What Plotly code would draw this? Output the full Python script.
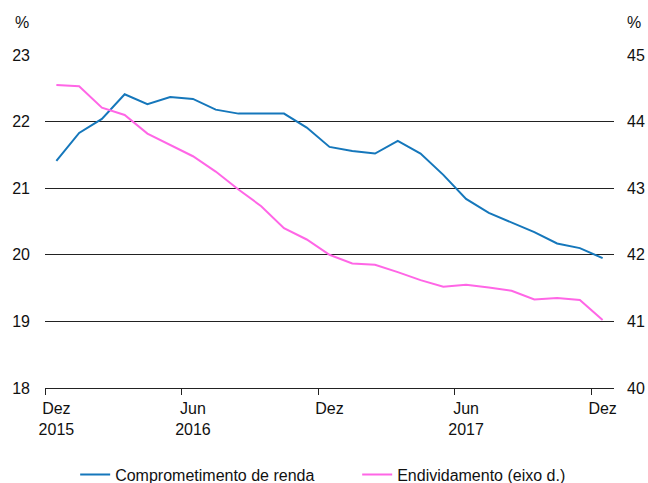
import plotly.graph_objects as go

months = list(range(25))
tick_pos = [0, 6, 12, 18, 24]
tick_labels = ["Dez<br>2015", "Jun<br>2016", "Dez", "Jun<br>2017", "Dez"]

comprometimento = [21.41, 21.83, 22.04, 22.41, 22.26, 22.37, 22.34, 22.18, 22.12, 22.12,
                   22.12, 21.91, 21.62, 21.56, 21.52, 21.71, 21.52, 21.20, 20.84, 20.63,
                   20.49, 20.34, 20.17, 20.10, 19.95]
endividamento = [44.55, 44.53, 44.21, 44.10, 43.82, 43.65, 43.48, 43.25, 42.98, 42.73,
                 42.40, 42.23, 42.00, 41.87, 41.85, 41.74, 41.62, 41.52, 41.55, 41.51,
                 41.46, 41.33, 41.35, 41.32, 41.02]

FONT = "Liberation Sans, Arial, sans-serif"
BLUE = "#1577BB"
PINK = "#FF66E6"
FS = 16

fig = go.Figure()
fig.add_trace(go.Scatter(x=months, y=comprometimento, mode="lines",
                         name="Comprometimento de renda",
                         line=dict(color=BLUE, width=2)))
fig.add_trace(go.Scatter(x=months, y=endividamento, mode="lines",
                         name="Endividamento (eixo d.)",
                         line=dict(color=PINK, width=2), yaxis="y2"))

fig.update_layout(
    width=648, height=483,
    margin=dict(l=45, r=34, t=55, b=95, autoexpand=False),
    paper_bgcolor="white", plot_bgcolor="white",
    font=dict(family=FONT, size=FS, color="#111"),
    showlegend=True,
    legend=dict(orientation="h", xref="container", x=0.116, xanchor="left",
                y=-0.26, yanchor="middle",
                font=dict(size=FS), itemwidth=30, tracegroupgap=0,
                entrywidth=237, entrywidthmode="pixels"),
    xaxis=dict(range=[-0.5, 24.5], tickmode="array", tickvals=tick_pos,
               ticktext=tick_labels, ticks="", showgrid=False, zeroline=False,
               showline=True, linecolor="#222", linewidth=1.3, automargin=False,
               ticklabelstandoff=6,
               minor=dict(tickmode="array", tickvals=[-0.5, 5.5, 11.5, 17.5, 23.5],
                          ticks="outside", ticklen=6, tickcolor="#222", tickwidth=1.3,
                          showgrid=False),
               tickfont=dict(size=FS)),
    yaxis=dict(range=[18, 23], dtick=1, tick0=18, showgrid=True, gridcolor="#222",
               gridwidth=1, zeroline=False, ticks="", ticklabelstandoff=14,
               automargin=False, tickfont=dict(size=FS)),
    yaxis2=dict(range=[40, 45], dtick=1, tick0=40, overlaying="y", side="right",
                showgrid=False, zeroline=False, ticks="", ticklabelstandoff=12,
                automargin=False, tickfont=dict(size=FS)),
    annotations=[
        dict(text="%", xref="paper", yref="paper", x=-0.04, y=1.0, yshift=33,
             showarrow=False, font=dict(size=FS), xanchor="center", yanchor="middle"),
        dict(text="%", xref="paper", yref="paper", x=1.035, y=1.0, yshift=33,
             showarrow=False, font=dict(size=FS), xanchor="center", yanchor="middle"),
    ],
)

fig.write_html("out.html",
               config={"displayModeBar": False},
               post_script="document.body.style.margin='0';document.body.style.overflow='hidden';")
